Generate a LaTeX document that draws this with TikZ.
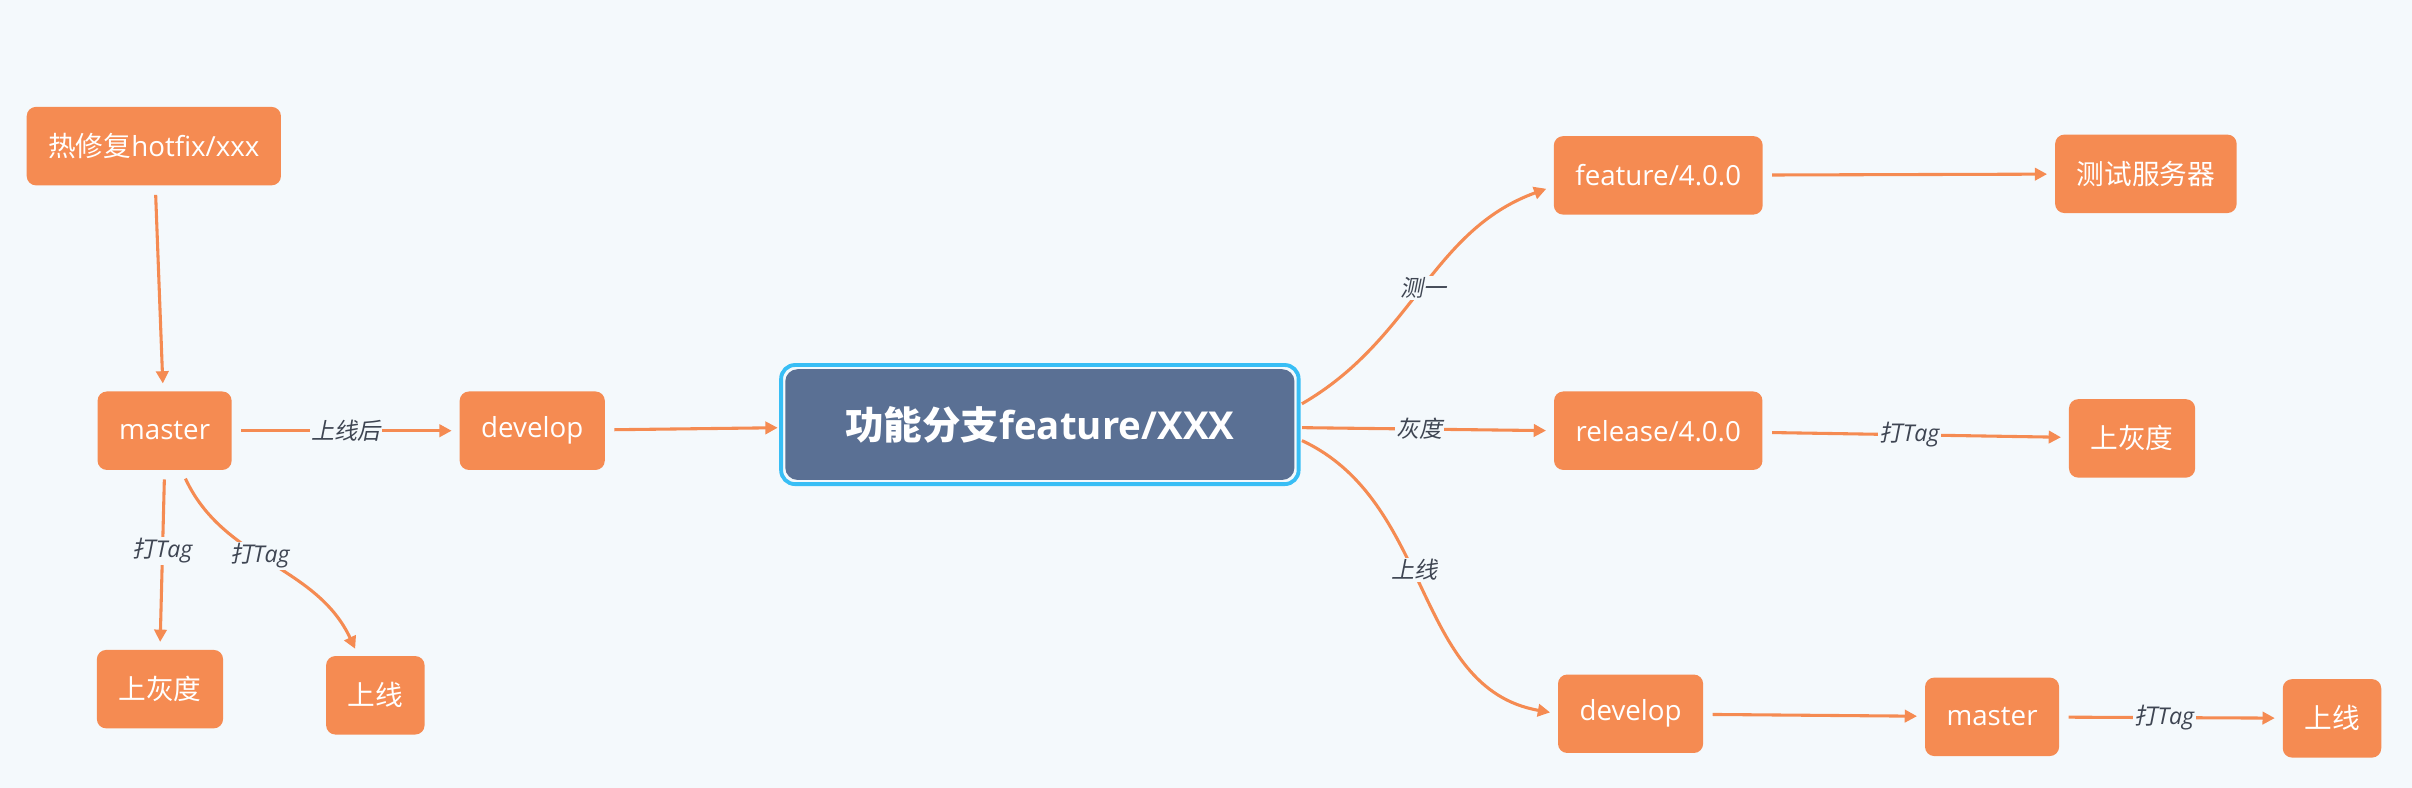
\documentclass[tikz,border=0pt]{standalone}
\usepackage{fontspec}
\setmainfont{Open Sans}
\newfontfamily\cjk{Noto Sans CJK SC}
\newfontfamily\cjkit{Noto Sans CJK SC}[FakeSlant=0.2]
\usetikzlibrary{arrows.meta}
\usetikzlibrary{fit}

\definecolor{bgblue}{RGB}{244,249,252}
\definecolor{nodeorange}{RGB}{245,139,82}
\definecolor{slate}{RGB}{90,112,148}
\definecolor{frameblue}{RGB}{56,190,245}
\definecolor{labelgray}{RGB}{62,69,82}

\begin{document}
\begin{tikzpicture}[x=1pt, y=1pt,
    box/.style={fill=nodeorange, text=white, rounded corners=6pt, minimum height=51pt, inner xsep=14pt, font=\fontsize{18}{20}\selectfont},
    flow/.style={draw=nodeorange, line width=2pt, -{Triangle[length=8pt,width=8pt]}, shorten >=5pt, shorten <=6pt},
    tag/.style={fill=bgblue, text=labelgray, inner sep=1pt, font=\fontsize{15}{17}\selectfont\itshape}]
                \fill[bgblue](0, 0) rectangle (1568, 512);

                % left side
                \node[box] (hotfix) at (100, 417) {{\cjk 热修复}hotfix/xxx};
                \node[box] (masterL) at (107, 232) {master};
                \node[box] (developL) at (346, 232) {develop};
                \node[box] (grayL) at (104, 64) {\cjk 上灰度};
                \node[box] (onlineL) at (244, 60) {\cjk 上线};

                % center
                \node[fill=slate, text=white, rounded corners=8pt, minimum width=331pt, minimum height=72pt,
                      font=\fontsize{25}{28}\selectfont\bfseries] (feat) at (676, 236) {{\cjk 功能分支}feature/XXX};
                \node[draw=frameblue, line width=2.5pt, rounded corners=9pt, fit=(feat), inner sep=2.5pt] (featframe) {};

                % right side
                \node[box] (featVer) at (1078, 398) {feature/4.0.0};
                \node[box] (testSrv) at (1395, 399) {\cjk 测试服务器};
                \node[box] (relVer) at (1078, 232) {release/4.0.0};
                \node[box] (grayR) at (1386, 227) {\cjk 上灰度};
                \node[box] (developR) at (1060, 48) {develop};
                \node[box] (masterR) at (1295, 46) {master};
                \node[box] (onlineR) at (1516, 45) {\cjk 上线};

                \draw[flow](hotfix)--(masterL);
                \draw[flow](masterL)--node[tag]{\cjkit 上线后}(developL);
                \draw[flow, shorten >=1pt](developL)--(featframe);
                \draw[flow](masterL.south)--node[tag, pos=0.45]{{\cjkit 打}Tag}(grayL.north);
                \draw[flow]([xshift=11pt]masterL.south)to[out=-65, in=115]node[tag, pos=0.45]{{\cjkit 打}Tag}([xshift=-11pt]onlineL.north);

                \draw[flow, shorten <=1pt]([yshift=13pt]featframe.east)to[out=30, in=200]node[tag]{\cjkit 测一}([yshift=-7pt]featVer.west);
                \draw[flow, shorten <=1pt]([yshift=-2pt]featframe.east)--node[tag, pos=0.47]{\cjkit 灰度}(relVer.west);
                \draw[flow, shorten <=1pt]([yshift=-10pt]featframe.east)to[out=-25, in=170]node[tag, pos=0.44]{\cjkit 上线}(developR.west);

                \draw[flow](featVer)--(testSrv);
                \draw[flow](relVer)--node[tag, pos=0.48]{{\cjkit 打}Tag}(grayR);
                \draw[flow](developR)--(masterR);
                \draw[flow](masterR)--node[tag, pos=0.47]{{\cjkit 打}Tag}(onlineR);
            \end{tikzpicture}
\end{document}
